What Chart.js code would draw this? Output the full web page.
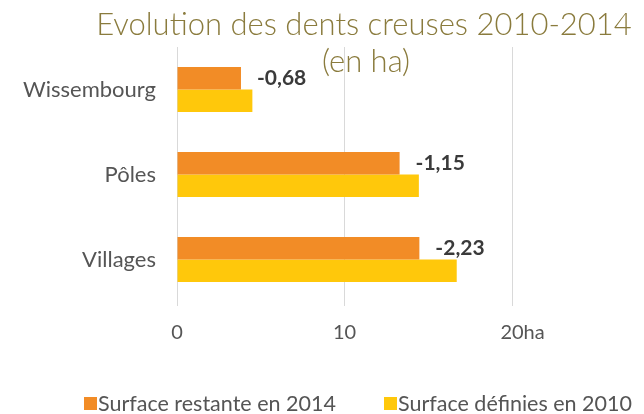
<!DOCTYPE html>
<html lang="fr">
<head>
<meta charset="utf-8">
<title>Dents creuses 2010-2014</title>
<script src="https://cdn.jsdelivr.net/npm/chart.js@4.4.1/dist/chart.umd.min.js"></script>
<style>
    html, body { margin: 0; padding: 0; background: #fff; }
    #wrap { width: 644px; height: 414px; }
</style>
</head>
<body>
<div id="wrap"><canvas id="chart" width="644" height="414"></canvas></div>
<script>
// Données (ha)
const categories = ['Wissembourg', 'Pôles', 'Villages'];
const surface2010 = [4.50, 14.44, 16.70];
const evolution = [-0.68, -1.15, -2.23];
const surface2014 = surface2010.map((v, i) => +(v + evolution[i]).toFixed(2));
const xTicks = [0, 10, 20];
const xUnit = 'ha';

const titleLines = ['Evolution des dents creuses 2010-2014', '(en ha)'];
const seriesLabels = ['Surface restante en 2014', 'Surface définies en 2010'];

const FONT = 'Lato, "Open Sans", sans-serif';
const ORANGE = '#f28c26';
const YELLOW = '#ffc80b';
const TEXT = '#555555';

// Titre sur deux lignes, dessiné par-dessus la grille
const titlePlugin = {
    id: 'titreDeux',
    afterDraw(chart) {
        const ctx = chart.ctx;
        ctx.save();
        ctx.fillStyle = '#8a7b3d';
        ctx.font = '300 31px ' + FONT;
        ctx.textAlign = 'center';
        ctx.textBaseline = 'middle';
        ctx.fillText(titleLines[0], 364, 25);
        ctx.fillText(titleLines[1], 366, 62);
        ctx.restore();
    }
};

// Écart 2010-2014 à droite des barres oranges
const ecartPlugin = {
    id: 'ecart',
    afterDatasetsDraw(chart) {
        const ctx = chart.ctx;
        const meta = chart.getDatasetMeta(0);
        ctx.save();
        ctx.fillStyle = '#3a3a3a';
        ctx.font = 'bold 21px ' + FONT;
        ctx.textAlign = 'left';
        ctx.textBaseline = 'middle';
        meta.data.forEach((bar, i) => {
            const txt = evolution[i].toFixed(2).replace('.', ',');
            ctx.fillText(txt, bar.x + 16, bar.y);
        });
        ctx.restore();
    }
};

// Unité collée au dernier libellé de l'axe
const unitePlugin = {
    id: 'unite',
    afterDraw(chart) {
        const sx = chart.scales.x;
        const ctx = chart.ctx;
        const last = xTicks[xTicks.length - 1];
        ctx.save();
        ctx.font = '20px ' + FONT;
        ctx.fillStyle = TEXT;
        ctx.textAlign = 'left';
        ctx.textBaseline = 'middle';
        const w = ctx.measureText(String(last)).width;
        ctx.fillText(xUnit, sx.getPixelForValue(last) + w / 2, 333);
        ctx.restore();
    }
};

// Légende en bas
const legendePlugin = {
    id: 'legende',
    afterDraw(chart) {
        const ctx = chart.ctx;
        const starts = [84, 384];
        ctx.save();
        ctx.font = '21.5px ' + FONT;
        ctx.textBaseline = 'middle';
        chart.data.datasets.forEach((ds, i) => {
            ctx.fillStyle = ds.backgroundColor;
            ctx.fillRect(starts[i], 397, 13, 13);
            ctx.fillStyle = TEXT;
            ctx.fillText(ds.label, starts[i] + 14, 404);
        });
        ctx.restore();
    }
};

new Chart(document.getElementById('chart'), {
    type: 'bar',
    data: {
        labels: categories,
        datasets: [
            { label: seriesLabels[0], data: surface2014, backgroundColor: ORANGE,
              categoryPercentage: 0.53, barPercentage: 1 },
            { label: seriesLabels[1], data: surface2010, backgroundColor: YELLOW,
              categoryPercentage: 0.53, barPercentage: 1 }
        ]
    },
    options: {
        indexAxis: 'y',
        responsive: false,
        animation: false,
        layout: { padding: { top: 47, right: 132, bottom: 0, left: 0 } },
        plugins: {
            legend: { display: false },
            title: { display: false },
            tooltip: { enabled: false }
        },
        scales: {
            x: {
                min: 0, max: 20,
                afterBuildTicks: s => { s.ticks = xTicks.map(v => ({ value: v })); },
                grid: { color: '#d9d9d9', lineWidth: 1, tickLength: 4 },
                border: { display: false },
                ticks: { color: TEXT, font: { family: FONT, size: 20 }, padding: 15, maxRotation: 0 },
                afterFit: s => { s.height = 112; }
            },
            y: {
                grid: { display: false },
                border: { display: false },
                ticks: { color: TEXT, font: { family: FONT, size: 22 }, padding: 13 },
                afterFit: s => { s.width = 177; }
            }
        }
    },
    plugins: [ecartPlugin, titlePlugin, unitePlugin, legendePlugin]
});
</script>
</body>
</html>
